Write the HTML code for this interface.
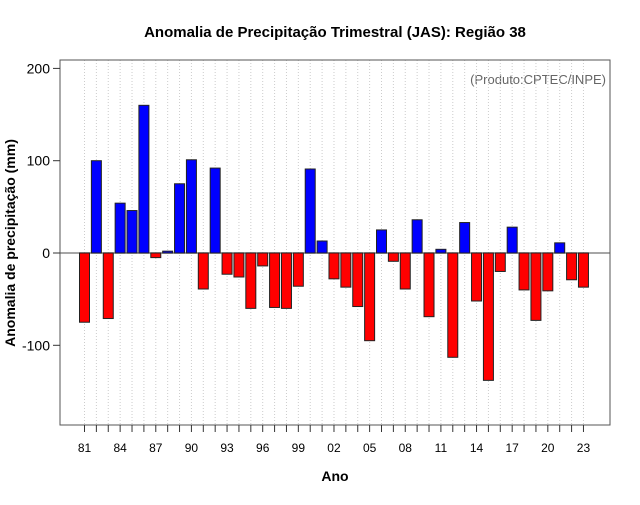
<!DOCTYPE html>
<html><head><meta charset="utf-8"><style>
body{margin:0;background:#fff}
svg text{font-family:"Liberation Sans",sans-serif}
</style></head><body>
<svg id="c" width="640" height="500" xmlns="http://www.w3.org/2000/svg">
<text x="335" y="37" text-anchor="middle" font-size="15" font-weight="bold">Anomalia de Precipitação Trimestral (JAS): Região 38</text>
<text x="606" y="84" text-anchor="end" font-size="13" fill="#666">(Produto:CPTEC/INPE)</text>
<text x="335" y="481" text-anchor="middle" font-size="14" font-weight="bold">Ano</text>
<text transform="translate(15,243) rotate(-90)" text-anchor="middle" font-size="14" font-weight="bold">Anomalia de precipitação (mm)</text>
<g id="grid"></g><g id="bars"></g><g id="axes"></g>
</svg>
<script>
const years=[1981,1982,1983,1984,1985,1986,1987,1988,1989,1990,1991,1992,1993,1994,1995,1996,1997,1998,1999,2000,2001,2002,2003,2004,2005,2006,2007,2008,2009,2010,2011,2012,2013,2014,2015,2016,2017,2018,2019,2020,2021,2022,2023];
const values=[-75,100,-71,54,46,160,-5,2,75,101,-39,92,-23,-26,-60,-14,-59,-60,-36,91,13,-28,-37,-58,-95,25,-9,-39,36,-69,4,-113,33,-52,-138,-20,28,-40,-73,-41,11,-29,-37];
const yTicks=[-100,0,100,200];
const NS='http://www.w3.org/2000/svg';
const L=60,R=610,T=60,B=425;
const x=i=>84.5+i*11.88;
const y=v=>253-v*0.923;
function mk(tag,attrs,parent,txt){const e=document.createElementNS(NS,tag);for(const k in attrs)e.setAttribute(k,attrs[k]);if(txt!==undefined)e.textContent=txt;document.getElementById(parent).appendChild(e);return e;}
years.forEach((yr,i)=>{
 const g=mk('line',{x1:x(i),x2:x(i),y1:T,y2:B,stroke:'#ccc','stroke-dasharray':'1,2','stroke-width':1},'grid');
 
 
});
const z=mk('line',{x1:L,x2:R,y1:y(0),y2:y(0),stroke:'#888','stroke-width':1.5},'grid');


values.forEach((v,i)=>{
 const top=Math.min(y(v),y(0)),h=Math.abs(y(v)-y(0));
 const r=mk('rect',{x:x(i)-5,y:top,width:10,height:Math.max(h,1),fill:v>=0?'#0000ff':'#ff0000',stroke:'#222','stroke-width':1},'bars');
 
 
});
const box=mk('rect',{x:L,y:T,width:R-L,height:B-T,fill:'none',stroke:'#555','stroke-width':1},'axes');


years.forEach((yr,i)=>{
 const t=mk('line',{x1:x(i),x2:x(i),y1:B,y2:B+7,stroke:'#333'},'axes');
 
 
 if(i%3===0){
  const lb=mk('text',{x:x(i),y:452,'text-anchor':'middle','font-size':12},'axes',String(yr%100).padStart(2,'0'));
  
  
 }
});
yTicks.forEach(v=>{
 const t=mk('line',{x1:L-7,x2:L,y1:y(v),y2:y(v),stroke:'#333'},'axes');
 
 
 const lb=mk('text',{x:L-10,y:y(v)+5,'text-anchor':'end','font-size':14},'axes',String(v));
 
 
});
</script>
</body></html>
